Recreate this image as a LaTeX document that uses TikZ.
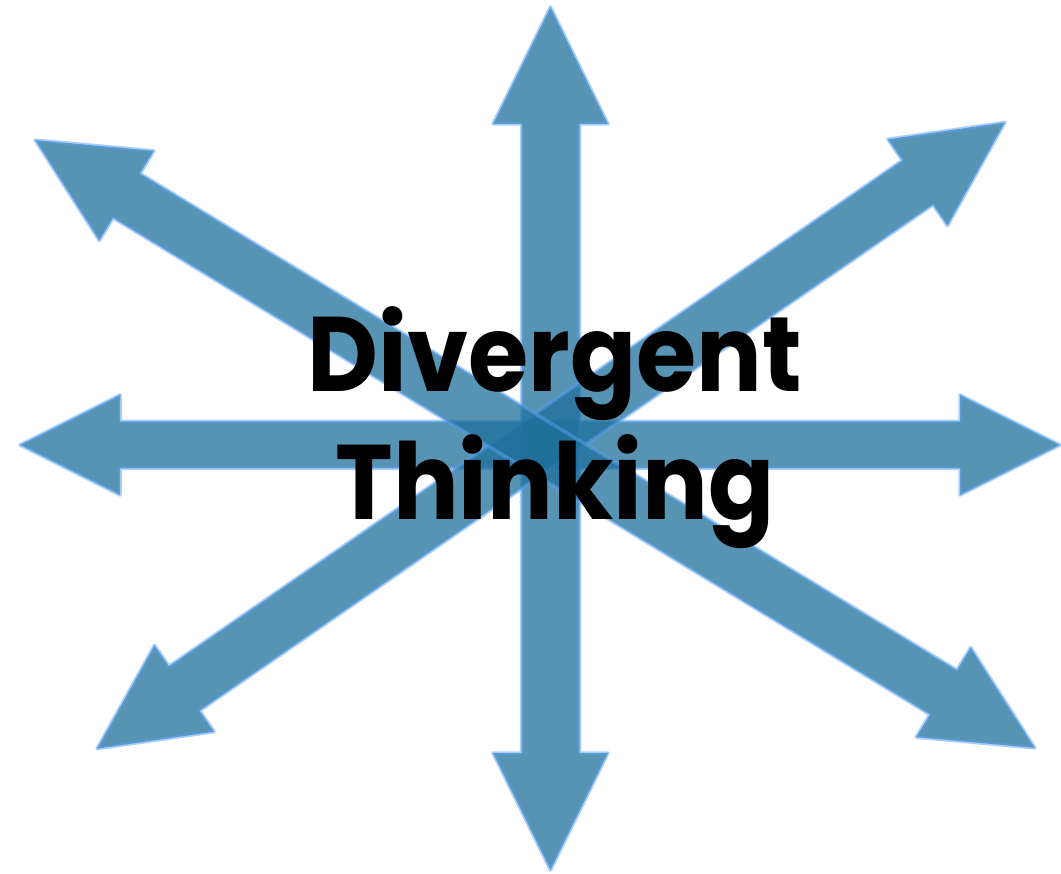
\documentclass[tikz,border=0pt]{standalone}
\usepackage{fontspec}
\setmainfont{Poppins}
\definecolor{arrowfill}{RGB}{31,111,154}
\definecolor{arrowedge}{RGB}{90,160,240}
% double-headed block arrow: centre x, centre y, angle, half length,
% head length, head half width, shaft half width
\newcommand\blockarrow[7]{%
  \path[arrowshape, shift={(#1,#2)}, rotate=#3]
    (#4,0) -- ({#4-#5},#6) -- ({#4-#5},#7) -- ({-#4+#5},#7)
    -- ({-#4+#5},#6) -- (-#4,0) -- ({-#4+#5},-#6) -- ({-#4+#5},-#7)
    -- ({#4-#5},-#7) -- ({#4-#5},-#6) -- cycle;}
\begin{document}
\begin{tikzpicture}[x=1pt,y=-1pt,
  arrowshape/.style={fill=arrowfill, fill opacity=0.75,
    draw=arrowedge, draw opacity=0.5, line width=3.5pt, line join=round},
  label/.style={font=\bfseries\fontsize{106}{106}\selectfont, anchor=base,
    inner sep=0pt, text=black, xscale=0.92}]
\useasboundingbox (0,0) rectangle (1061,874);
\blockarrow{540}{445}{0}{520}{100}{50}{23.5}
\blockarrow{550.5}{438.5}{90}{431.5}{117}{57.5}{29}
\blockarrow{551}{435.5}{34.6}{551.5}{106}{52.5}{27}
\blockarrow{535}{444}{-31.3}{585}{107}{52.5}{26}
\node[label] (top) at (555,392) {Divergent};
\node[label] (bottom) at (555,520) {Thinking};
\end{tikzpicture}
\end{document}
